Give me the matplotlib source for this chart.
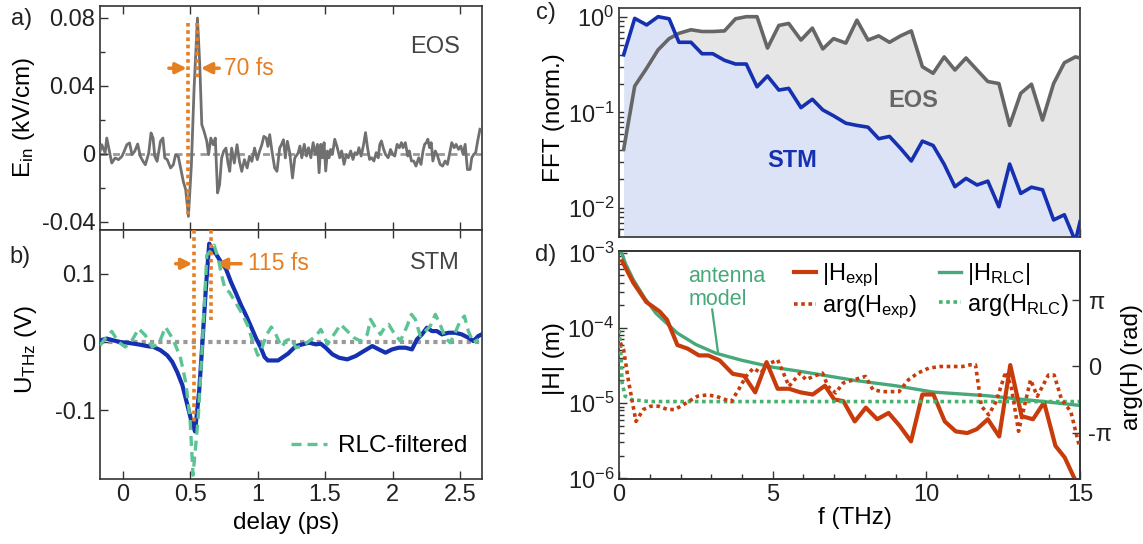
import numpy as np
import matplotlib
matplotlib.use('Agg')
import matplotlib.pyplot as plt
from matplotlib.ticker import FixedLocator, LogLocator, NullFormatter

plt.rcParams['font.family'] = ['Liberation Sans', 'DejaVu Sans']
plt.rcParams['mathtext.fontset'] = 'custom'
plt.rcParams['mathtext.rm'] = 'Liberation Sans'
plt.rcParams['mathtext.it'] = 'Liberation Sans:italic'
plt.rcParams['mathtext.bf'] = 'Liberation Sans:bold'
plt.rcParams['axes.unicode_minus'] = False
plt.rcParams['font.size'] = 17

# ---------------- data: panel a (EOS trace) ----------------
t_eos = [-0.167, -0.154, -0.129, -0.117, -0.097, -0.080, -0.055, -0.030, -0.005, 0.012,
         0.032, 0.052, 0.070, 0.090, 0.112, 0.132, 0.152, 0.169, 0.194, 0.211,
         0.226, 0.239, 0.256, 0.281, 0.299, 0.313, 0.331, 0.356, 0.376, 0.393,
         0.413, 0.430, 0.450, 0.468, 0.488, 0.510, 0.530, 0.555, 0.572, 0.587,
         0.604, 0.624, 0.637, 0.654, 0.672, 0.687, 0.704, 0.719, 0.734, 0.749,
         0.766, 0.781, 0.794, 0.808, 0.828, 0.848, 0.866, 0.883, 0.903, 0.923,
         0.940, 0.958, 0.978, 0.998, 1.015, 1.032, 1.047, 1.065, 1.077, 1.090,
         1.107, 1.127, 1.144, 1.164, 1.177, 1.192, 1.206, 1.221, 1.239, 1.259,
         1.276, 1.301, 1.314, 1.328, 1.346, 1.363, 1.378, 1.395, 1.412, 1.427,
         1.444, 1.456, 1.469, 1.481, 1.493, 1.505, 1.518, 1.530, 1.542, 1.555,
         1.572, 1.591, 1.609, 1.623, 1.641, 1.658, 1.673, 1.690, 1.707, 1.722,
         1.739, 1.751, 1.768, 1.786, 1.800, 1.815, 1.830, 1.845, 1.862, 1.879,
         1.894, 1.906, 1.918, 1.931, 1.948, 1.968, 1.985, 2.002, 2.017, 2.034,
         2.051, 2.066, 2.078, 2.095, 2.113, 2.125, 2.140, 2.157, 2.174, 2.194,
         2.211, 2.226, 2.238, 2.250, 2.262, 2.275, 2.287, 2.299, 2.317, 2.334,
         2.353, 2.371, 2.390, 2.407, 2.422, 2.439, 2.457, 2.471, 2.489, 2.506,
         2.523, 2.538, 2.555, 2.575, 2.587, 2.602, 2.616, 2.631, 2.648]
e_eos = [0.0014, 0.0053, 0.0004, 0.0092, 0.0014, -0.0055, -0.0025, -0.0035, -0.0016, 0.0014,
         0.0053, 0.0063, -0.0006, 0.0014, 0.0057, -0.0016, -0.0045, -0.0065, 0.0004, 0.0122,
         0.0092, -0.0016, -0.0045, 0.0073, 0.0092, -0.0025, -0.0035, -0.0084, -0.0065, -0.0006,
         -0.0016, -0.0084, -0.0163, -0.0212, -0.0369, -0.0065, 0.0386, 0.0798, 0.0523, 0.0171,
         0.0131, 0.0073, -0.0006, 0.0092, 0.0053, 0.0092, -0.0231, -0.0182, -0.0025, 0.0014,
         0.0033, -0.0055, -0.0104, 0.0033, -0.0055, 0.0053, -0.0045, -0.0104, -0.0035, -0.0084,
         -0.0016, -0.0045, 0.0033, -0.0035, 0.0014, 0.0053, 0.0102, 0.0092, 0.0043, 0.0112,
         0.0014, -0.0084, -0.0104, 0.0033, 0.0053, 0.0082, -0.0025, 0.0073, 0.0004, -0.0143,
         -0.0025, 0.0004, 0.0045, -0.0024, 0.0055, -0.0014, 0.0035, -0.0024, 0.0065, -0.0004,
         0.0055, -0.0112, 0.0055, -0.0024, 0.0065, -0.0102, 0.0016, -0.0024, 0.0025, -0.0004,
         0.0085, 0.0035, -0.0024, 0.0016, -0.0063, -0.0004, -0.0024, 0.0016, -0.0034, 0.0006,
         -0.0004, 0.0035, -0.0014, 0.0055, 0.0124, 0.0035, -0.0034, -0.0024, -0.0043, 0.0006,
         -0.0024, 0.0055, 0.0075, 0.0035, -0.0004, -0.0024, 0.0025, -0.0004, -0.0014, 0.0055,
         0.0035, 0.0065, 0.0035, 0.0065, -0.0014, 0.0016, -0.0043, -0.0043, -0.0073, -0.0024,
         -0.0063, 0.0016, 0.0055, 0.0065, 0.0085, 0.0035, 0.0065, -0.0043, 0.0016, -0.0014,
         -0.0063, -0.0073, -0.0043, -0.0063, -0.0004, 0.0065, 0.0035, 0.0055, 0.0025, 0.0045,
         -0.0004, 0.0055, -0.0093, -0.0093, -0.0024, -0.0004, 0.0006, 0.0075, 0.0144]

# ---------------- data: panel b (STM trace and RLC-filtered) ----------------
t_stm = [-0.167, -0.117, -0.067, -0.017, 0.032, 0.082, 0.132, 0.182, 0.231, 0.281,
         0.331, 0.368, 0.405, 0.443, 0.475, 0.505, 0.537, 0.567, 0.592, 0.617,
         0.642, 0.667, 0.692, 0.729, 0.766, 0.803, 0.841, 0.878, 0.915, 0.953,
         0.990, 1.022, 1.052, 1.077, 1.114, 1.152, 1.189, 1.226, 1.284, 1.333,
         1.382, 1.432, 1.469, 1.505, 1.555, 1.604, 1.665, 1.727, 1.788, 1.850,
         1.899, 1.948, 1.997, 2.046, 2.095, 2.144, 2.181, 2.218, 2.255, 2.292,
         2.329, 2.366, 2.415, 2.464, 2.513, 2.562, 2.599, 2.636, 2.661]
u_stm = [0.0024, 0.005, 0.0024, 0.0, -0.001, -0.0024, -0.004, -0.006, -0.0073, -0.012,
         -0.0195, -0.029, -0.044, -0.063, -0.088, -0.112, -0.131, -0.073, 0.0, 0.078,
         0.144, 0.134, 0.129, 0.117, 0.107, 0.088, 0.071, 0.054, 0.039, 0.022,
         0.005, -0.0073, -0.022, -0.027, -0.027, -0.027, -0.022, -0.017, -0.0059, -0.0034,
         -0.001, -0.0034, -0.0025, -0.0083, -0.018, -0.023, -0.0254, -0.0205, -0.0132, -0.0059,
         -0.0108, -0.0156, -0.0108, -0.0083, -0.0083, -0.0108, 0.0039, 0.0112, 0.021, 0.016,
         0.016, 0.0112, 0.0136, 0.0136, 0.0112, 0.0063, 0.0014, 0.0088, 0.0112]
t_rlc = [-0.167, -0.129, -0.080, -0.030, 0.020, 0.070, 0.119, 0.169, 0.219, 0.269,
         0.318, 0.356, 0.393, 0.430, 0.468, 0.500, 0.522, 0.560, 0.592, 0.624,
         0.654, 0.679, 0.709, 0.734, 0.759, 0.791, 0.828, 0.878, 0.928, 0.965,
         1.002, 1.027, 1.065, 1.102, 1.139, 1.177, 1.214, 1.251, 1.284, 1.333,
         1.382, 1.432, 1.469, 1.493, 1.518, 1.567, 1.616, 1.665, 1.714, 1.763,
         1.813, 1.837, 1.874, 1.911, 1.948, 1.972, 2.009, 2.058, 2.108, 2.140,
         2.169, 2.206, 2.243, 2.280, 2.317, 2.353, 2.390, 2.427, 2.464, 2.501,
         2.533, 2.562, 2.599, 2.636]
u_rlc = [-0.005, 0.005, 0.0156, 0.0, -0.0073, 0.0024, 0.0195, 0.0098, -0.0073, -0.0024,
         0.022, 0.0098, -0.005, -0.024, -0.059, -0.112, -0.195, -0.112, 0.0, 0.127,
         0.134, 0.1415, 0.122, 0.0976, 0.078, 0.073, 0.061, 0.044, 0.024, 0.0,
         -0.0195, -0.012, 0.0098, 0.022, 0.0098, -0.0073, 0.0024, 0.005, -0.0083, -0.0059,
         0.0014, 0.0088, 0.0185, 0.0088, -0.0034, 0.0112, 0.0258, 0.016, 0.0063, 0.0014,
         0.0112, 0.0332, 0.021, 0.0112, 0.0234, 0.0258, 0.0136, 0.0014, 0.0234, 0.0405,
         0.0332, 0.0088, 0.016, 0.0234, 0.0405, 0.0258, 0.0063, -0.001, 0.0136, 0.0307,
         0.038, 0.016, -0.001, 0.0039]

# ---------------- data: panel c (normalised spectra) ----------------
f_fft = [0.15, 0.51, 0.90, 1.27, 1.63, 1.95, 2.34, 2.70, 3.05, 3.43,
         3.79, 4.14, 4.49, 4.83, 5.20, 5.52, 5.92, 6.29, 6.63, 6.98,
         7.38, 7.74, 8.10, 8.45, 8.80, 9.16, 9.51, 9.87, 10.22, 10.58,
         10.93, 11.29, 11.65, 12.00, 12.36, 12.71, 13.07, 13.42, 13.78, 14.14,
         14.49, 14.85, 15.0]
stm_fft = [0.40, 0.96, 0.82, 1.0, 0.95, 0.54, 0.54, 0.41, 0.41, 0.35,
           0.32, 0.32, 0.185, 0.24, 0.171, 0.178, 0.112, 0.137, 0.106, 0.092,
           0.077, 0.073, 0.070, 0.053, 0.056, 0.042, 0.031, 0.050, 0.045, 0.0286,
           0.0167, 0.0204, 0.0174, 0.0191, 0.0103, 0.0288, 0.0142, 0.0165, 0.0155, 0.0075,
           0.0085, 0.0045, 0.0072]
eos_fft = [0.041, 0.188, 0.29, 0.45, 0.59, 0.67, 0.73, 0.70, 0.70, 0.71,
           0.95, 1.0, 1.0, 0.47, 0.81, 0.85, 0.57, 0.76, 0.46, 0.59,
           0.53, 0.92, 0.57, 0.63, 0.54, 0.63, 0.71, 0.30, 0.256, 0.38,
           0.277, 0.37, 0.277, 0.21, 0.20, 0.073, 0.158, 0.197, 0.083, 0.20,
           0.33, 0.38, 0.37]

# ---------------- data: panel d (transfer function) ----------------
f_h = [0.1, 0.46, 0.89, 1.32, 1.56, 1.9, 2.23, 2.6, 2.9, 3.27,
       3.7, 4.07, 4.43, 4.8, 5.16, 5.53, 5.9, 6.3, 6.7, 7.0,
       7.3, 7.67, 8.03, 8.4, 8.77, 9.13, 9.5, 9.87, 10.23, 10.6,
       10.96, 11.33, 11.64, 12.0, 12.37, 12.73, 13.1, 13.47, 13.83, 14.2,
       14.5, 14.87]
h_exp = [7.7e-4, 4.0e-4, 2.2e-4, 1.65e-4, 1.28e-4, 5.9e-5, 5.3e-5, 4.3e-5, 4.3e-5, 3.7e-5,
         2.45e-5, 2.3e-5, 1.39e-5, 3.5e-5, 1.55e-5, 1.55e-5, 1.39e-5, 1.3e-5, 1.7e-5, 1.12e-5,
         1.06e-5, 5.7e-6, 8.7e-6, 6.1e-6, 7.4e-6, 5.0e-6, 3.1e-6, 1.3e-5, 1.3e-5, 5.7e-6,
         4.2e-6, 4.0e-6, 4.5e-6, 6.1e-6, 3.6e-6, 3.2e-5, 6.7e-6, 6.1e-6, 1.02e-5, 2.7e-6,
         1.9e-6, 9e-7]
f_arg = [0.04, 0.15, 0.30, 0.55, 0.79, 1.03, 1.28, 1.58, 1.82, 2.19,
         2.55, 2.86, 3.16, 3.46, 3.65, 3.89, 4.13, 4.37, 4.62, 4.80,
         5.16, 5.35, 5.53, 5.71, 5.89, 6.08, 6.32, 6.62, 6.80, 7.05,
         7.29, 7.65, 8.02, 8.26, 8.57, 8.87, 9.11, 9.42, 9.72, 10.08,
         10.45, 10.81, 11.18, 11.42, 11.60, 11.79, 12.03, 12.27, 12.58, 12.76,
         13.0, 13.24, 13.39, 13.61, 13.97, 14.16, 14.4, 14.70, 14.98]
arg_exp_pi = [0.36, 0.25, -0.2, -0.83, -0.65, -0.60, -0.60, -0.65, -0.65, -0.55,
              -0.45, -0.43, -0.45, -0.50, -0.53, -0.35, -0.15, -0.025, -0.10, 0.025,
              0.10, -0.10, -0.30, -0.20, -0.10, -0.20, -0.15, -0.10, -0.30, -0.40,
              -0.25, -0.20, -0.15, -0.35, -0.38, -0.38, -0.38, -0.20, -0.10, -0.025,
              0.0, 0.0, 0.0, 0.025, 0.025, -0.60, -0.73, -0.53, -0.08, -0.30,
              -0.98, -0.50, -0.20, -0.45, -0.13, -0.13, -0.50, -0.68, -1.21]
f_rlc = [0.05, 0.1, 0.22, 0.46, 0.83, 1.2, 1.9, 2.5, 3.15, 4.0,
         5.0, 6.0, 7.67, 9.0, 10.23, 12.0, 13.8, 15.0]
h_rlc = [1.1e-3, 9.5e-4, 7.0e-4, 4.4e-4, 2.5e-4, 1.56e-4, 8.5e-5, 6.0e-5, 4.6e-5, 3.7e-5,
         3.0e-5, 2.6e-5, 2.0e-5, 1.7e-5, 1.4e-5, 1.25e-5, 1.05e-5, 9.3e-6]
f_arg_rlc = [0.0, 0.05, 0.1, 0.2, 0.4, 1.0, 3.0, 6.0, 9.0, 12.0, 15.0]
arg_rlc_pi = [0.55, 0.3, -0.25, -0.45, -0.5, -0.53, -0.53, -0.53, -0.53, -0.53, -0.53]

# ---------------- style ----------------
ORANGE = '#e67e22'
GRAY = '#707070'
BLUE = '#1530b0'
MINT = '#5cc494'
RED = '#c83c0c'
GREEN = '#47a97a'
GREEN_DOT = '#45b36b'
SPINE = '#333333'
TXT = '#222222'

fig = plt.figure(figsize=(11.43, 5.44), dpi=100)
ax_a = fig.add_axes([0.0875, 0.5772, 0.3342, 0.4118])
ax_b = fig.add_axes([0.0875, 0.1189, 0.3342, 0.4583])
ax_c = fig.add_axes([0.5416, 0.5649, 0.4033, 0.4199])
ax_d = fig.add_axes([0.5416, 0.1195, 0.4033, 0.4191])


def style(ax):
    for s in ax.spines.values():
        s.set_color(SPINE)
        s.set_linewidth(1.2)
    ax.tick_params(which='both', direction='in', colors=SPINE, labelcolor=TXT,
                   labelsize=17, width=1.0)
    ax.tick_params(which='major', length=6)
    ax.tick_params(which='minor', length=3.5)


for ax in (ax_a, ax_b, ax_c, ax_d):
    style(ax)

# ---------------- panel a ----------------
ax_a.axhline(0, color='#999999', lw=2, ls=(0, (2.5, 2)), zorder=1)
ax_a.plot(t_eos, e_eos, color=GRAY, lw=2.0, zorder=3)
ax_a.plot([0.488, 0.488], [0.0768, -0.0378], color=ORANGE, lw=2.6, ls=(0, (1, 1)), zorder=4)
ax_a.plot([0.555, 0.555], [0.0768, 0.0435], color=ORANGE, lw=2.6, ls=(0, (1, 1)), zorder=4)
arr = dict(arrowstyle='-|>', color=ORANGE, lw=2.5, mutation_scale=16, shrinkA=0, shrinkB=0)
ax_a.annotate('', xy=(0.475, 0.0503), xytext=(0.343, 0.0503), arrowprops=arr)
ax_a.annotate('', xy=(0.580, 0.0503), xytext=(0.716, 0.0503), arrowprops=arr)
ax_a.text(0.754, 0.0503, '70 fs', color=ORANGE, fontsize=16.5, ha='left', va='center')
ax_a.text(2.315, 0.063, 'EOS', color='#444444', fontsize=17, ha='center', va='center')
ax_a.set_xlim(-0.167, 2.663)
ax_a.set_ylim(-0.0449, 0.0869)
ax_a.set_yticks([-0.04, 0, 0.04, 0.08], ['-0.04', '0', '0.04', '0.08'])
ax_a.yaxis.set_minor_locator(FixedLocator([-0.02, 0.02, 0.06]))
ax_a.set_xticks([0, 0.5, 1, 1.5, 2, 2.5])
ax_a.tick_params(axis='x', labelbottom=False, top=True)
ax_a.set_ylabel(r'E$_{\mathrm{in}}$ (kV/cm)', fontsize=17.5, va='center')
ax_a.yaxis.set_label_coords(-0.2, 0.5)

# ---------------- panel b ----------------
ax_b.axhline(0, color='#999999', lw=3, ls=(0, (1, 1)), zorder=1)
ax_b.plot(t_stm, u_stm, color=BLUE, lw=3.0, zorder=3)
rlc_line, = ax_b.plot(t_rlc, u_rlc, color=MINT, lw=2.4, ls=(0, (3, 1.8)), zorder=4)
ax_b.plot([0.530, 0.530], [0.164, -0.117], color=ORANGE, lw=2.6, ls=(0, (1, 1)), zorder=5)
ax_b.plot([0.655, 0.655], [0.164, 0.032], color=ORANGE, lw=2.6, ls=(0, (1, 1)), zorder=5)
ax_b.annotate('', xy=(0.517, 0.1146), xytext=(0.393, 0.1146), arrowprops=arr)
ax_b.annotate('', xy=(0.691, 0.1146), xytext=(0.878, 0.1146), arrowprops=arr)
ax_b.text(0.928, 0.1146, '115 fs', color=ORANGE, fontsize=16.5, ha='left', va='center')
ax_b.text(2.315, 0.1157, 'STM', color='#444444', fontsize=17, ha='center', va='center')
ax_b.set_xlim(-0.167, 2.663)
ax_b.set_ylim(-0.201, 0.164)
ax_b.set_yticks([-0.1, 0, 0.1], ['-0.1', '0', '0.1'])
ax_b.set_xticks([0, 0.5, 1, 1.5, 2, 2.5], ['0', '0.5', '1', '1.5', '2', '2.5'])
ax_b.tick_params(axis='x', top=True)
ax_b.set_ylabel(r'U$_{\mathrm{THz}}$ (V)', fontsize=17.5, va='center')
ax_b.yaxis.set_label_coords(-0.195, 0.52)
ax_b.set_xlabel('delay (ps)', fontsize=17.5, va='center')
ax_b.xaxis.set_label_coords(0.487, -0.175)
ax_b.legend([rlc_line], ['RLC-filtered'], loc='lower right', frameon=False,
            fontsize=17.5, handlelength=1.5, handletextpad=0.45,
            bbox_to_anchor=(1.0, 0.03), borderaxespad=0.2)

# ---------------- panel c ----------------
ax_c.set_yscale('log')
ax_c.fill_between(f_fft, eos_fft, 1e-4, color='#e6e6e6', lw=0, zorder=1)
ax_c.fill_between(f_fft, stm_fft, 1e-4, color='#dce3f7', lw=0, zorder=2)
ax_c.plot(f_fft, eos_fft, color='#666666', lw=2.6, zorder=3)
ax_c.plot(f_fft, stm_fft, color=BLUE, lw=2.6, zorder=4)
ax_c.text(9.56, 0.133, 'EOS', color='#666666', fontsize=17, fontweight='bold',
          ha='center', va='center')
ax_c.text(5.65, 0.031, 'STM', color=BLUE, fontsize=17, fontweight='bold',
          ha='center', va='center')
ax_c.set_xlim(0, 15)
ax_c.set_ylim(10 ** -2.30, 10 ** 0.088)
ax_c.yaxis.set_major_locator(FixedLocator([1e-2, 1e-1, 1e0]))
ax_c.set_yticklabels([r'$10^{-2}$', r'$10^{-1}$', r'$10^{0}$'])
ax_c.yaxis.set_minor_locator(LogLocator(base=10, subs=np.arange(2, 10)))
ax_c.yaxis.set_minor_formatter(NullFormatter())
ax_c.set_xticks([0, 5, 10, 15])
ax_c.xaxis.set_minor_locator(FixedLocator(np.arange(0, 16, 1)))
ax_c.tick_params(axis='x', labelbottom=False)
ax_c.set_ylabel('FFT (norm.)', fontsize=17.5, va='center')
ax_c.yaxis.set_label_coords(-0.141, 0.52)

# ---------------- panel d ----------------
ax_d.set_yscale('log')
l_hexp, = ax_d.plot(f_h, h_exp, color=RED, lw=3.0, zorder=4)
l_hrlc, = ax_d.plot(f_rlc, h_rlc, color=GREEN, lw=2.4, zorder=3)
ax_d.set_xlim(0, 15)
ax_d.set_ylim(9.8e-7, 1.05e-3)
ax_d.yaxis.set_major_locator(FixedLocator([1e-6, 1e-5, 1e-4, 1e-3]))
ax_d.set_yticklabels([r'$10^{-6}$', r'$10^{-5}$', r'$10^{-4}$', r'$10^{-3}$'])
ax_d.yaxis.set_minor_locator(LogLocator(base=10, subs=np.arange(2, 10)))
ax_d.yaxis.set_minor_formatter(NullFormatter())
ax_d.set_xticks([0, 5, 10, 15], ['0', '5', '10', '15'])
ax_d.xaxis.set_minor_locator(FixedLocator(np.arange(0, 16, 1)))
ax_d.set_ylabel('|H| (m)', fontsize=17.5, va='center')
ax_d.yaxis.set_label_coords(-0.141, 0.53)
ax_d.set_xlabel('f (THz)', fontsize=17.5, va='center')
ax_d.xaxis.set_label_coords(0.512, -0.17)
ax_d.text(2.25, 3.4e-4, 'antenna\nmodel', color=GREEN, fontsize=15.5,
          ha='left', va='center', linespacing=1.15)
ax_d.plot([3.03, 3.22], [1.75e-4, 4.7e-5], color=GREEN, lw=1.6, zorder=3)

ax_d2 = ax_d.twinx()
style(ax_d2)
ax_d2.spines['left'].set_visible(False)
l_aexp, = ax_d2.plot(f_arg, np.array(arg_exp_pi) * np.pi, color=RED, lw=2.6,
                     ls=(0, (1, 1)), zorder=3)
l_arlc, = ax_d2.plot(f_arg_rlc, np.array(arg_rlc_pi) * np.pi, color=GREEN_DOT, lw=2.6,
                     ls=(0, (1, 1)), zorder=2)
ax_d2.set_ylim(-1.70 * np.pi, 1.745 * np.pi)
ax_d2.set_yticks([-np.pi, 0, np.pi], ['-π', '0', 'π'])
ax_d2.tick_params(axis='y', pad=6)
ax_d2.set_ylabel('arg(H) (rad)', fontsize=17.5, va='center', rotation=90)
ax_d2.yaxis.set_label_coords(1.113, 0.49)

ax_d2.legend([l_hexp, l_aexp, l_hrlc, l_arlc],
             [r'|H$_{\mathrm{exp}}$|', r'arg(H$_{\mathrm{exp}}$)',
              r'|H$_{\mathrm{RLC}}$|', r'arg(H$_{\mathrm{RLC}}$)'],
             ncol=2, loc='upper left', frameon=False, fontsize=17,
             handlelength=0.95, handletextpad=0.25, columnspacing=0.9,
             labelspacing=0.2, borderpad=0, borderaxespad=0,
             bbox_to_anchor=(794 / 1143, 1 - 261 / 544), bbox_transform=fig.transFigure)

# ---------------- panel letters ----------------
fig.text(22 / 1143, 1 - 19 / 544, 'a)', fontsize=17, ha='center', va='center', color=TXT)
fig.text(20 / 1143, 1 - 257 / 544, 'b)', fontsize=17, ha='center', va='center', color=TXT)
fig.text(546 / 1143, 1 - 13 / 544, 'c)', fontsize=17, ha='center', va='center', color=TXT)
fig.text(546 / 1143, 1 - 255 / 544, 'd)', fontsize=17, ha='center', va='center', color=TXT)

fig.savefig('out.png', dpi=100)
